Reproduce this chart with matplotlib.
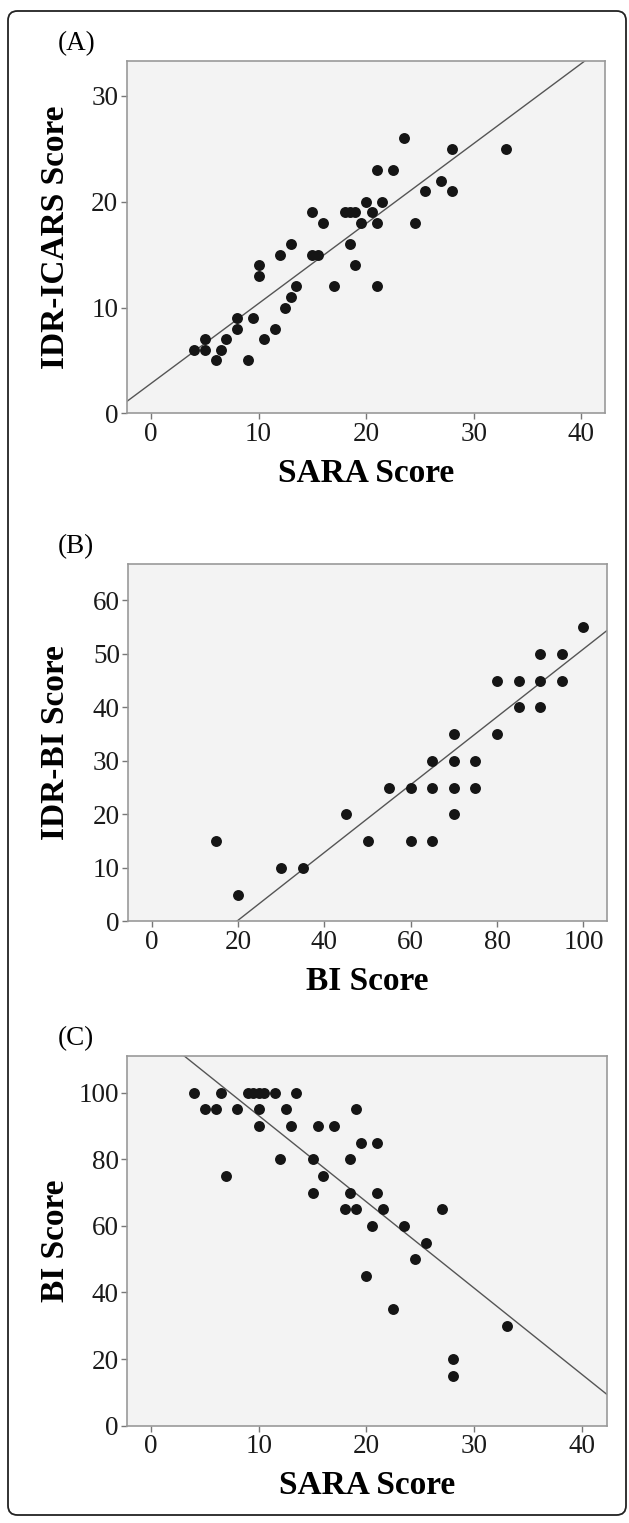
import numpy as np
import matplotlib
matplotlib.use("Agg")
import matplotlib.pyplot as plt
from matplotlib.patches import FancyBboxPatch

plt.rcParams['font.family'] = ['Liberation Serif', 'DejaVu Serif']

# (A) SARA vs IDR-ICARS
sara_a = [4, 5, 5, 6, 6.5, 7, 8, 8, 9, 9.5, 10, 10, 10.5, 11.5, 12, 12.5, 13, 13, 13.5,
          15, 15, 15.5, 16, 17, 18, 18.5, 19, 18.5, 19, 19.5, 20, 20.5, 21, 21, 21,
          21.5, 22.5, 23.5, 24.5, 25.5, 27, 28, 28, 33]
icars_a = [6, 7, 6, 5, 6, 7, 9, 8, 5, 9, 14, 13, 7, 8, 15, 10, 16, 11, 12,
           19, 15, 15, 18, 12, 19, 19, 19, 16, 14, 18, 20, 19, 18, 23, 12,
           20, 23, 26, 18, 21, 22, 25, 21, 25]
fit_a = (2.82, 0.756)

# (B) BI vs IDR-BI
bi_b = [15, 20, 30, 35, 45, 50, 55, 60, 60, 65, 65, 65, 70, 70, 70, 70, 75, 75,
        80, 80, 85, 85, 90, 90, 90, 95, 95, 100]
idrbi_b = [15, 5, 10, 10, 20, 15, 25, 25, 15, 30, 25, 15, 35, 30, 25, 20, 30, 25,
           45, 35, 45, 40, 50, 45, 40, 50, 45, 55]
fit_b = (-12.5, 0.634)

# (C) SARA vs BI
sara_c = [4, 5, 6, 6.5, 7, 8, 9, 9.5, 10, 10.5, 10, 10, 11.5, 12, 12.5, 13, 13.5,
          15, 15, 15.5, 16, 17, 18, 18.5, 18.5, 19, 19, 19.5, 20, 20.5, 21, 21,
          21.5, 22.5, 23.5, 24.5, 25.5, 27, 28, 28, 33]
bi_c = [100, 95, 95, 100, 75, 95, 100, 100, 100, 100, 95, 90, 100, 80, 95, 90, 100,
        80, 70, 90, 75, 90, 65, 80, 70, 95, 65, 85, 45, 60, 85, 70,
        65, 35, 60, 50, 55, 65, 20, 15, 30]
fit_c = (119.0, -2.59)

W, H = 629, 1523
fig = plt.figure(figsize=(W / 100, H / 100), dpi=100)

# outer rounded frame
frame = FancyBboxPatch((8 / W, 8 / H), (618 / W), (1504 / H),
                       boxstyle="round,pad=0,rounding_size=0.015",
                       transform=fig.transFigure, fill=False,
                       edgecolor='#222222', linewidth=1.3, mutation_aspect=W / H)
fig.patches.append(frame)


def px_axes(left, top, right, bottom):
    return fig.add_axes([left / W, 1 - bottom / H, (right - left) / W, (bottom - top) / H])


panels = [
    dict(box=(126.7, 61, 605, 413.3), x=sara_a, y=icars_a, fit=fit_a,
         xlim=(-2.26, 42.2), ylim=(0, 33.3), xt=[0, 10, 20, 30, 40], yt=[0, 10, 20, 30],
         xl='SARA Score', yl='IDR-ICARS Score', tag='(A)', tagy=44),
    dict(box=(128.3, 564, 606.7, 921.3), x=bi_b, y=idrbi_b, fit=fit_b,
         xlim=(-5.4, 105.4), ylim=(0, 66.8), xt=[0, 20, 40, 60, 80, 100],
         yt=[0, 10, 20, 30, 40, 50, 60],
         xl='BI Score', yl='IDR-BI Score', tag='(B)', tagy=547),
    dict(box=(127.3, 1056, 606.7, 1425.7), x=sara_c, y=bi_c, fit=fit_c,
         xlim=(-2.2, 42.3), ylim=(0, 111), xt=[0, 10, 20, 30, 40],
         yt=[0, 20, 40, 60, 80, 100],
         xl='SARA Score', yl='BI Score', tag='(C)', tagy=1039),
]

for p in panels:
    left, top, right, bottom = p['box']
    ax = px_axes(left, top, right, bottom)
    ax.set_facecolor('#f3f3f3')
    ax.scatter(p['x'], p['y'], s=62, color='#151515', zorder=3, linewidths=0)
    b, m = p['fit']
    ax.axline((0, b), slope=m, color='#555555', linewidth=1.0, zorder=2)
    ax.set_xlim(*p['xlim'])
    ax.set_ylim(*p['ylim'])
    ax.set_xticks(p['xt'])
    ax.set_yticks(p['yt'])
    for s in ax.spines.values():
        s.set_color('#999999')
        s.set_linewidth(1.2)
    ax.tick_params(direction='out', length=4, width=1, color='#777777',
                   labelsize=19.5, labelcolor='#1a1a1a', pad=2)
    ax.set_xlabel(p['xl'], fontsize=24, fontweight='bold', va='center')
    ax.set_ylabel(p['yl'], fontsize=24, fontweight='bold', va='center')
    # label centres placed in pixel terms
    ax.xaxis.set_label_coords(0.5, -(60 / (bottom - top)))
    ax.yaxis.set_label_coords(-(left - 56) / (right - left), 0.5)
    fig.text(58 / W, 1 - p['tagy'] / H, p['tag'], fontsize=19.5, va='center', ha='left')

fig.savefig('out.png', dpi=100)
